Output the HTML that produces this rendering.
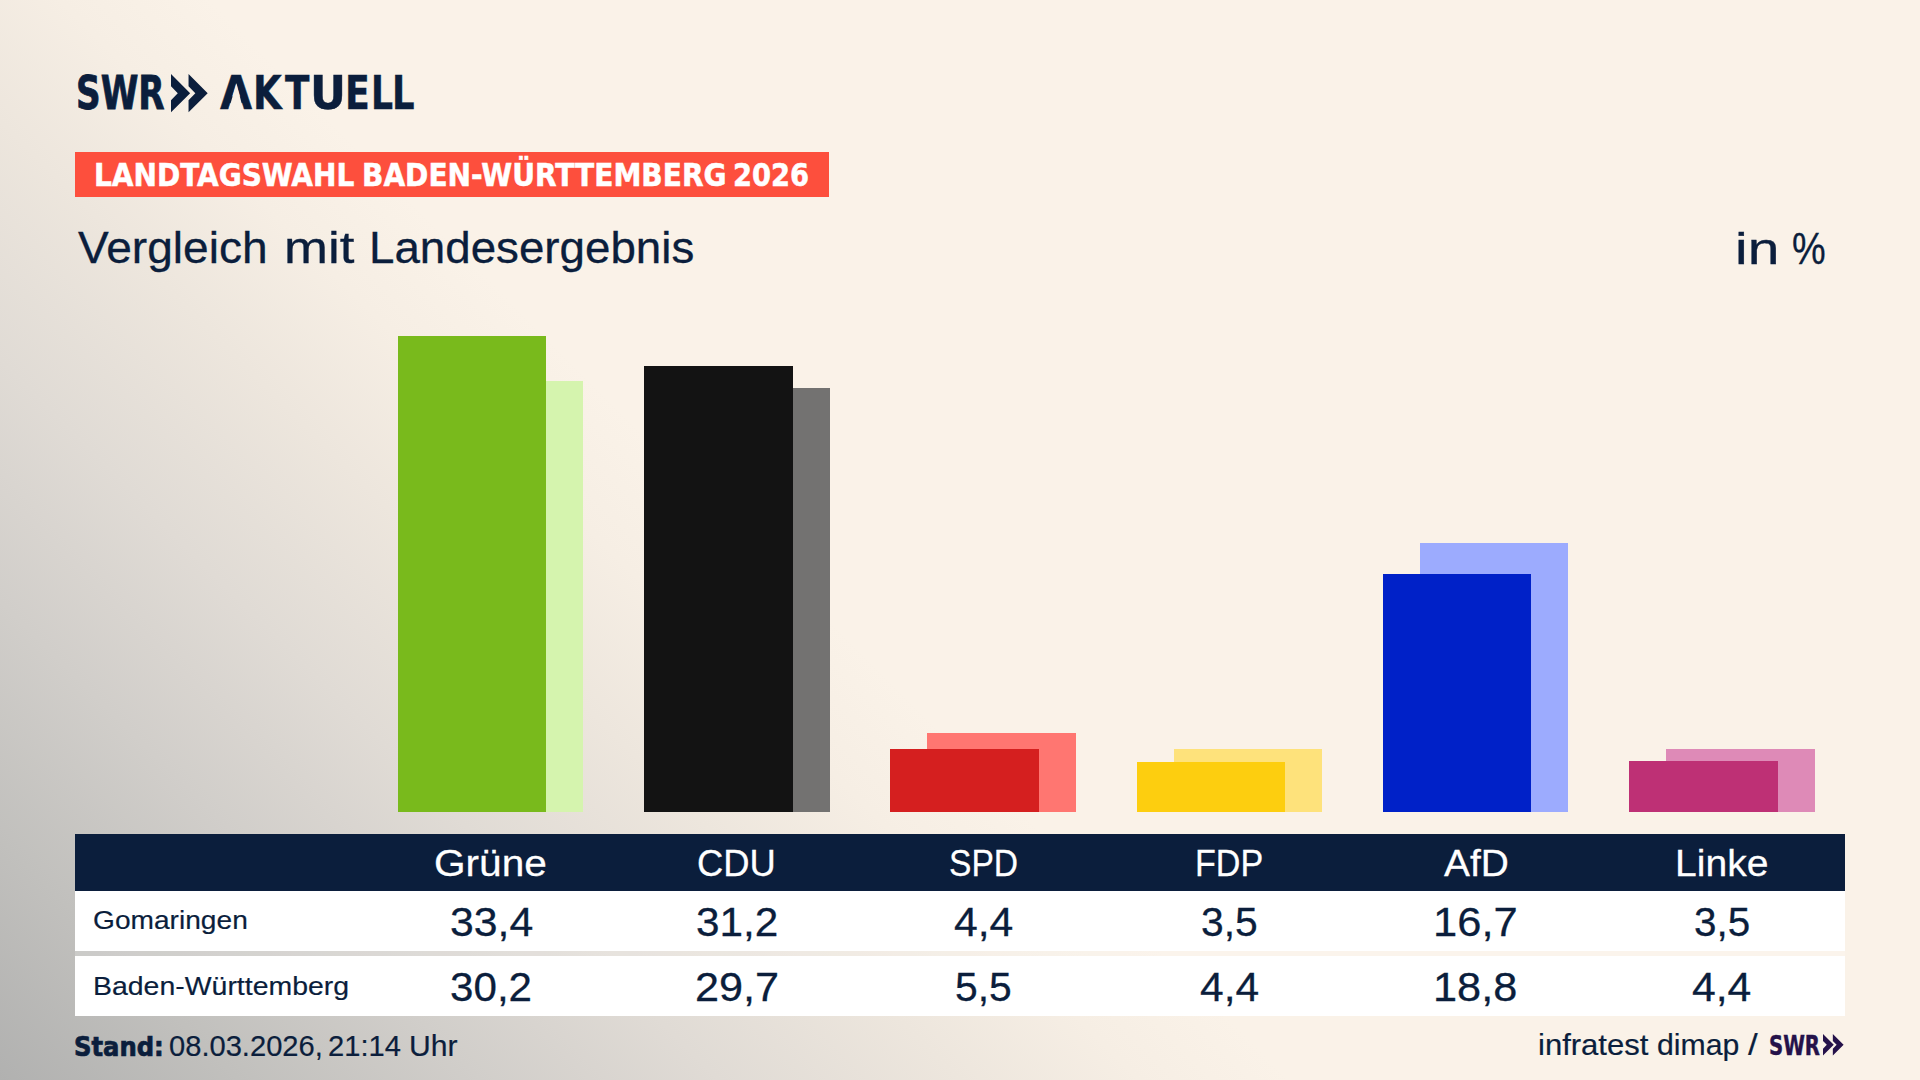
<!DOCTYPE html>
<html lang="de">
<head>
<meta charset="utf-8">
<title>SWR Aktuell – Landtagswahl Baden-Württemberg 2026 – Vergleich mit Landesergebnis</title>
<style>
html,body{margin:0;padding:0;}
body{width:1920px;height:1080px;overflow:hidden;position:relative;
 font-family:"Liberation Sans",sans-serif;color:#0b1e3c;
 background:#faf2e8;}
#bg,#acut{position:absolute;left:0;top:0;width:1920px;height:1080px;
 background:linear-gradient(45deg,#b1b1b0 0%,#c1c0bd 8%,#d1ceca 16%,#e0dbd5 24%,#ede6dd 32%,#f6eee4 38%,#faf2e8 43%,#faf2e8 100%);}
.t{position:absolute;white-space:nowrap;transform-origin:0 0;display:block;}
.w{margin:0;padding:0;font-size:16px;font-weight:400;}
.bar{position:absolute;}
#banner{position:absolute;left:75px;top:152px;width:754px;height:45px;background:#fd4f3d;}
#thead{position:absolute;left:75px;top:834px;width:1770px;height:57px;background:#0b1e3c;}
.row{position:absolute;left:75px;width:1770px;height:60px;background:#fff;}
#row1{top:891px;}
#row2{top:956px;}
#rowgap{position:absolute;left:75px;top:951px;width:1770px;height:5px;background:rgba(255,255,255,.2);}
svg{position:absolute;overflow:visible;}
#acut{clip-path:polygon(236.4px 83.2px,243.5px 110.6px,228.5px 110.6px);}
</style>
</head>
<body>
<div id="bg"></div>

<header id="logo">
<span class="t" style="left:75.55px;top:66px;font-size:46.60px;line-height:54px;transform:scaleX(0.8159);color:#0b1e3c;font-weight:700;-webkit-text-stroke:0.8px #0b1e3c;font-family:'DejaVu Sans Condensed','DejaVu Sans',sans-serif;">SWR</span>
<svg width="36.70" height="38.30" style="left:171.10px;top:73.50px" viewBox="0 0 36.70 38.30"><polygon fill="#0b1e3c" points="0.00,0.00 19.15,19.15 0.00,38.30 0.00,26.13 6.78,19.15 0.00,12.27"/><polygon fill="#0b1e3c" points="17.55,0.00 36.70,19.15 17.55,38.30 17.55,26.13 24.34,19.15 17.55,12.27"/></svg>
<span class="word"><span class="t" style="left:220.07px;top:65px;font-size:47.00px;line-height:55px;transform:scaleX(0.9817);color:#0b1e3c;font-weight:700;-webkit-text-stroke:0.4px #0b1e3c;font-family:'DejaVu Sans Condensed','DejaVu Sans',sans-serif;">A</span><span class="t" style="left:252.98px;top:65px;font-size:47.00px;line-height:55px;transform:scaleX(0.8758);color:#0b1e3c;font-weight:700;-webkit-text-stroke:0.4px #0b1e3c;font-family:'DejaVu Sans Condensed','DejaVu Sans',sans-serif;">K</span><span class="t" style="left:285.47px;top:65px;font-size:47.00px;line-height:55px;transform:scaleX(0.8462);color:#0b1e3c;font-weight:700;-webkit-text-stroke:0.4px #0b1e3c;font-family:'DejaVu Sans Condensed','DejaVu Sans',sans-serif;">T</span><span class="t" style="left:309.77px;top:65px;font-size:47.00px;line-height:55px;transform:scaleX(1.0482);color:#0b1e3c;font-weight:700;-webkit-text-stroke:0.4px #0b1e3c;font-family:'DejaVu Sans Condensed','DejaVu Sans',sans-serif;">U</span><span class="t" style="left:345.14px;top:65px;font-size:47.00px;line-height:55px;transform:scaleX(0.8582);color:#0b1e3c;font-weight:700;-webkit-text-stroke:0.4px #0b1e3c;font-family:'DejaVu Sans Condensed','DejaVu Sans',sans-serif;">E</span><span class="t" style="left:370.59px;top:65px;font-size:47.00px;line-height:55px;transform:scaleX(0.8181);color:#0b1e3c;font-weight:700;-webkit-text-stroke:0.4px #0b1e3c;font-family:'DejaVu Sans Condensed','DejaVu Sans',sans-serif;">L</span><span class="t" style="left:392.22px;top:65px;font-size:47.00px;line-height:55px;transform:scaleX(0.8359);color:#0b1e3c;font-weight:700;-webkit-text-stroke:0.4px #0b1e3c;font-family:'DejaVu Sans Condensed','DejaVu Sans',sans-serif;">L</span></span>
<div id="acut"></div>
</header>
<div id="banner"></div>
<h2 id="bannertext" class="w"><span class="t" style="left:93.75px;top:156px;font-size:32.60px;line-height:38px;transform:scaleX(0.9560);color:#ffffff;font-weight:700;-webkit-text-stroke:0.5px #ffffff;font-family:'DejaVu Sans Condensed','DejaVu Sans',sans-serif;">LANDTAGSWAHL</span>
<span class="t" style="left:361.94px;top:156px;font-size:32.60px;line-height:38px;transform:scaleX(0.9574);color:#ffffff;font-weight:700;-webkit-text-stroke:0.5px #ffffff;font-family:'DejaVu Sans Condensed','DejaVu Sans',sans-serif;">BADEN-WÜRTTEMBERG</span>
<span class="t" style="left:733.41px;top:156px;font-size:32.60px;line-height:38px;transform:scaleX(0.9322);color:#ffffff;font-weight:700;-webkit-text-stroke:0.5px #ffffff;font-family:'DejaVu Sans Condensed','DejaVu Sans',sans-serif;">2026</span></h2>
<h1 id="title" class="w"><span class="t" style="left:77.63px;top:223px;font-size:43.90px;line-height:49px;transform:scaleX(1.0501);color:#0b1e3c;-webkit-text-stroke:0.31px #0b1e3c;">Vergleich</span>
<span class="t" style="left:283.66px;top:223px;font-size:43.90px;line-height:49px;transform:scaleX(1.2018);color:#0b1e3c;-webkit-text-stroke:0.31px #0b1e3c;">mit</span>
<span class="t" style="left:369.30px;top:223px;font-size:43.90px;line-height:49px;transform:scaleX(1.0413);color:#0b1e3c;-webkit-text-stroke:0.31px #0b1e3c;">Landesergebnis</span></h1>
<div id="unit" class="w"><span class="t" style="left:1735.49px;top:224px;font-size:43.90px;line-height:49px;transform:scaleX(1.2995);color:#0b1e3c;-webkit-text-stroke:0.31px #0b1e3c;">in</span>
<span class="t" style="left:1791.71px;top:224px;font-size:43.90px;line-height:49px;transform:scaleX(0.8621);color:#0b1e3c;-webkit-text-stroke:0.31px #0b1e3c;">%</span></div>
<main id="chart">
<div class="bargroup" id="bars-gruene"><div class="bar land" style="left:435px;top:381px;width:148px;height:431px;background:#d5f4ae"></div><div class="bar ort" style="left:398px;top:336px;width:148px;height:476px;background:#79ba1c"></div></div>
<div class="bargroup" id="bars-cdu"><div class="bar land" style="left:681px;top:388px;width:149px;height:424px;background:#737271"></div><div class="bar ort" style="left:644px;top:366px;width:149px;height:446px;background:#131313"></div></div>
<div class="bargroup" id="bars-spd"><div class="bar land" style="left:927px;top:733px;width:149px;height:79px;background:#ff7671"></div><div class="bar ort" style="left:890px;top:749px;width:149px;height:63px;background:#d51f1f"></div></div>
<div class="bargroup" id="bars-fdp"><div class="bar land" style="left:1174px;top:749px;width:148px;height:63px;background:#fee27b"></div><div class="bar ort" style="left:1137px;top:762px;width:148px;height:50px;background:#fdce0f"></div></div>
<div class="bargroup" id="bars-afd"><div class="bar land" style="left:1420px;top:543px;width:148px;height:269px;background:#9cabfe"></div><div class="bar ort" style="left:1383px;top:574px;width:148px;height:238px;background:#0021c8"></div></div>
<div class="bargroup" id="bars-linke"><div class="bar land" style="left:1666px;top:749px;width:149px;height:63px;background:#de8ab7"></div><div class="bar ort" style="left:1629px;top:761px;width:149px;height:51px;background:#be3075"></div></div>
</main>
<section id="table">
<div id="thead"></div><div class="row" id="row1"></div><div id="rowgap"></div><div class="row" id="row2"></div>
<div id="heads" class="w"><span class="t" style="left:433.86px;top:842px;font-size:37.80px;line-height:42px;transform:scaleX(1.0737);color:#ffffff;-webkit-text-stroke:0.26px #ffffff;">Grüne</span>
<span class="t" style="left:697.06px;top:842px;font-size:37.80px;line-height:42px;transform:scaleX(0.9629);color:#ffffff;-webkit-text-stroke:0.26px #ffffff;">CDU</span>
<span class="t" style="left:948.60px;top:842px;font-size:37.80px;line-height:42px;transform:scaleX(0.8888);color:#ffffff;-webkit-text-stroke:0.26px #ffffff;">SPD</span>
<span class="t" style="left:1195.39px;top:842px;font-size:37.80px;line-height:42px;transform:scaleX(0.9021);color:#ffffff;-webkit-text-stroke:0.26px #ffffff;">FDP</span>
<span class="t" style="left:1443.88px;top:842px;font-size:37.80px;line-height:42px;transform:scaleX(1.0285);color:#ffffff;-webkit-text-stroke:0.26px #ffffff;">AfD</span>
<span class="t" style="left:1675.01px;top:842px;font-size:37.80px;line-height:42px;transform:scaleX(1.0335);color:#ffffff;-webkit-text-stroke:0.26px #ffffff;">Linke</span></div>
<div id="r1" class="w"><span class="t" style="left:93.39px;top:906px;font-size:25.90px;line-height:28px;transform:scaleX(1.0863);color:#0b1e3c;-webkit-text-stroke:0.18px #0b1e3c;">Gomaringen</span>
<span class="t" style="left:449.69px;top:900px;font-size:40.00px;line-height:44px;transform:scaleX(1.0693);color:#0b1e3c;-webkit-text-stroke:0.28px #0b1e3c;">33,4</span>
<span class="t" style="left:695.96px;top:900px;font-size:40.00px;line-height:44px;transform:scaleX(1.0573);color:#0b1e3c;-webkit-text-stroke:0.28px #0b1e3c;">31,2</span>
<span class="t" style="left:953.55px;top:900px;font-size:40.00px;line-height:44px;transform:scaleX(1.0672);color:#0b1e3c;-webkit-text-stroke:0.28px #0b1e3c;">4,4</span>
<span class="t" style="left:1201.01px;top:900px;font-size:40.00px;line-height:44px;transform:scaleX(1.0203);color:#0b1e3c;-webkit-text-stroke:0.28px #0b1e3c;">3,5</span>
<span class="t" style="left:1433.14px;top:900px;font-size:40.00px;line-height:44px;transform:scaleX(1.0878);color:#0b1e3c;-webkit-text-stroke:0.28px #0b1e3c;">16,7</span>
<span class="t" style="left:1694.02px;top:900px;font-size:40.00px;line-height:44px;transform:scaleX(1.0108);color:#0b1e3c;-webkit-text-stroke:0.28px #0b1e3c;">3,5</span></div>
<div id="r2" class="w"><span class="t" style="left:92.52px;top:972px;font-size:25.90px;line-height:28px;transform:scaleX(1.0986);color:#0b1e3c;-webkit-text-stroke:0.18px #0b1e3c;">Baden-Württemberg</span>
<span class="t" style="left:449.96px;top:965px;font-size:40.00px;line-height:44px;transform:scaleX(1.0540);color:#0b1e3c;-webkit-text-stroke:0.28px #0b1e3c;">30,2</span>
<span class="t" style="left:694.74px;top:965px;font-size:40.00px;line-height:44px;transform:scaleX(1.0799);color:#0b1e3c;-webkit-text-stroke:0.28px #0b1e3c;">29,7</span>
<span class="t" style="left:954.76px;top:965px;font-size:40.00px;line-height:44px;transform:scaleX(1.0203);color:#0b1e3c;-webkit-text-stroke:0.28px #0b1e3c;">5,5</span>
<span class="t" style="left:1200.05px;top:965px;font-size:40.00px;line-height:44px;transform:scaleX(1.0625);color:#0b1e3c;-webkit-text-stroke:0.28px #0b1e3c;">4,4</span>
<span class="t" style="left:1433.16px;top:965px;font-size:40.00px;line-height:44px;transform:scaleX(1.0819);color:#0b1e3c;-webkit-text-stroke:0.28px #0b1e3c;">18,8</span>
<span class="t" style="left:1692.30px;top:965px;font-size:40.00px;line-height:44px;transform:scaleX(1.0672);color:#0b1e3c;-webkit-text-stroke:0.28px #0b1e3c;">4,4</span></div>
</section>
<footer>
<div id="stand" class="w"><span class="t" style="left:74.35px;top:1031px;font-size:27.00px;line-height:31px;transform:scaleX(0.9976);color:#0b1e3c;font-weight:700;-webkit-text-stroke:0.7px #0b1e3c;font-family:'DejaVu Sans Condensed','DejaVu Sans',sans-serif;">Stand:</span>
<span class="t" style="left:168.94px;top:1030px;font-size:28.60px;line-height:32px;transform:scaleX(1.0181);color:#0b1e3c;-webkit-text-stroke:0.2px #0b1e3c;">08.03.2026,</span>
<span class="t" style="left:328.15px;top:1030px;font-size:28.60px;line-height:32px;transform:scaleX(1.0186);color:#0b1e3c;-webkit-text-stroke:0.2px #0b1e3c;">21:14</span>
<span class="t" style="left:408.95px;top:1030px;font-size:28.60px;line-height:32px;transform:scaleX(1.0533);color:#0b1e3c;-webkit-text-stroke:0.2px #0b1e3c;">Uhr</span></div>
<div id="source" class="w"><span class="t" style="left:1537.59px;top:1029px;font-size:28.60px;line-height:32px;transform:scaleX(1.0854);color:#0b1e3c;-webkit-text-stroke:0.2px #0b1e3c;">infratest</span>
<span class="t" style="left:1657.00px;top:1029px;font-size:28.60px;line-height:32px;transform:scaleX(1.0561);color:#0b1e3c;-webkit-text-stroke:0.2px #0b1e3c;">dimap</span>
<span class="t" style="left:1748.32px;top:1029px;font-size:28.60px;line-height:32px;transform:scaleX(1.2183);color:#0b1e3c;-webkit-text-stroke:0.2px #0b1e3c;">/</span>
<span class="t" style="left:1768.55px;top:1031px;font-size:26.00px;line-height:30px;transform:scaleX(0.8404);color:#25124a;font-weight:700;-webkit-text-stroke:0.4px #25124a;font-family:'DejaVu Sans Condensed','DejaVu Sans',sans-serif;">SWR</span>
<svg width="20.60" height="21.50" style="left:1823.00px;top:1034.20px" viewBox="0 0 20.60 21.50"><polygon fill="#25124a" points="0.00,0.00 10.75,10.75 0.00,21.50 0.00,14.67 3.81,10.75 0.00,6.89"/><polygon fill="#25124a" points="9.85,0.00 20.60,10.75 9.85,21.50 9.85,14.67 13.66,10.75 9.85,6.89"/></svg></div>
</footer>
</body>
</html>
